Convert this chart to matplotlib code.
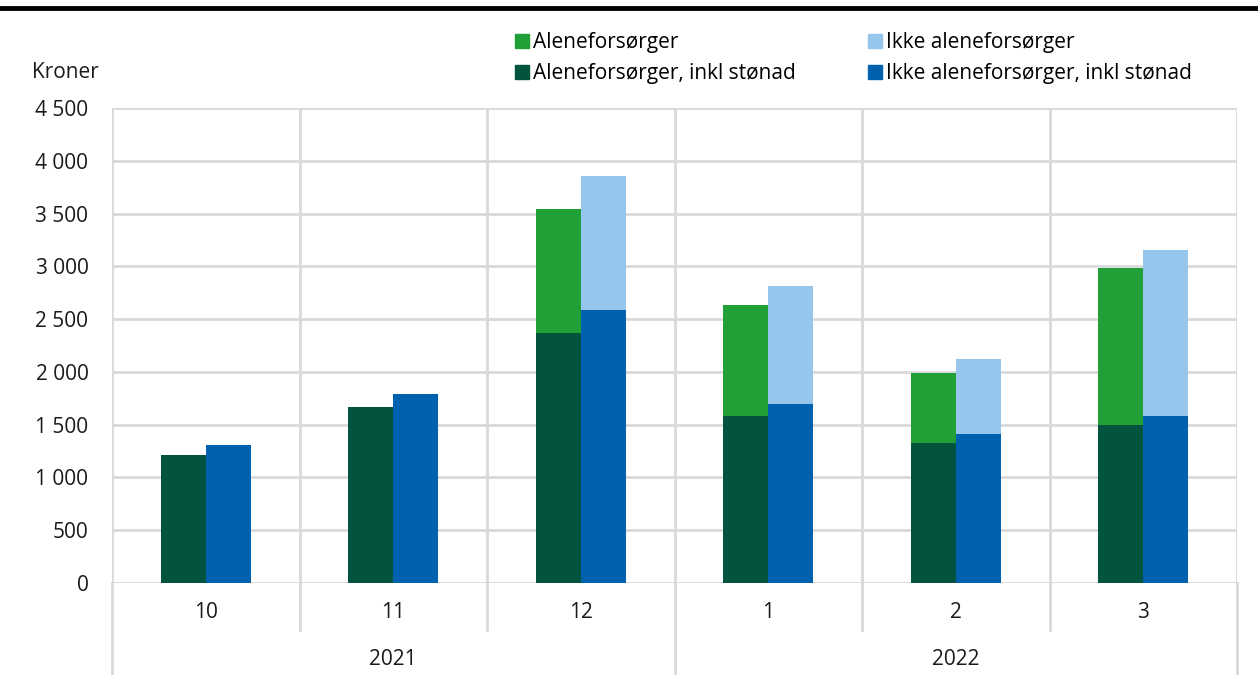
import matplotlib.pyplot as plt
import matplotlib.transforms as mtransforms
from matplotlib.lines import Line2D
from matplotlib.patches import Patch

plt.rcParams['font.family'] = ['Open Sans', 'DejaVu Sans']

# data (kroner)
months = ['10', '11', '12', '1', '2', '3']
years = ['2021', '2022']
year_span = [(0, 2), (3, 5)]
alene = [1213, 1670, 3545, 2634, 1987, 2987]
alene_stonad = [1213, 1670, 2368, 1582, 1323, 1494]
ikke_alene = [1304, 1788, 3853, 2814, 2119, 3158]
ikke_alene_stonad = [1304, 1788, 2586, 1699, 1415, 1585]
yticks = list(range(0, 4501, 500))

c_dark = '#02543f'
c_green = '#20a037'
c_blue = '#0062ae'
c_light = '#96c6eb'
c_grid = '#d9d9d9'
c_text = '#1a1a1a'
fs = 15

W, H = 1258, 675
fig = plt.figure(figsize=(W / 100, H / 100), dpi=100)
ax = fig.add_axes([112 / W, (H - 583) / H, (1237 - 112) / W, 475 / H])

x = list(range(len(months)))
bw = 0.24
xl = [i - bw / 2 for i in x]
xr = [i + bw / 2 for i in x]
ax.bar(xl, alene, width=bw, color=c_green, edgecolor='none', zorder=3)
ax.bar(xl, alene_stonad, width=bw, color=c_dark, edgecolor='none', zorder=4)
ax.bar(xr, ikke_alene, width=bw, color=c_light, edgecolor='none', zorder=3)
ax.bar(xr, ikke_alene_stonad, width=bw, color=c_blue, edgecolor='none', zorder=4)

ax.set_xlim(-0.5, len(months) - 0.5)
ax.set_ylim(0, 4500)
for s in ax.spines.values():
    s.set_visible(False)
for y in yticks:
    ax.axhline(y, color=c_grid, lw=2, zorder=1)
for b in range(len(months) + 1):
    ax.axvline(b - 0.5, color=c_grid, lw=2, zorder=1)

ax.set_yticks(yticks)
ax.set_yticklabels([f'{v:,}'.replace(',', ' ') for v in yticks])
ax.tick_params(axis='y', length=0, pad=17, labelsize=fs, colors=c_text)
ax.set_xticks([])

# category axis below the plot
trans = mtransforms.blended_transform_factory(ax.transData, ax.transAxes)
for i, m in enumerate(months):
    ax.text(i, -0.063, m, transform=trans, ha='center', va='center',
            fontsize=fs, color=c_text)
for b in range(len(months) + 1):
    long_line = b in (0, 3, 6)
    y_end = -0.2 if long_line else -0.099
    ax.plot([b - 0.5, b - 0.5], [0, y_end], transform=trans, color=c_grid,
            lw=2, clip_on=False)
for yr, (a, b) in zip(years, year_span):
    ax.text((a + b) / 2, -0.162, yr, transform=trans, ha='center', va='center',
            fontsize=fs, color=c_text)

fig.text(32 / W, 1 - 73 / H, 'Kroner', ha='left', va='center', fontsize=fs,
         color=c_text)

handles = [Patch(color=c_green), Patch(color=c_dark), Patch(color=c_light), Patch(color=c_blue)]
labels = ['Aleneforsørger', 'Aleneforsørger, inkl stønad',
          'Ikke aleneforsørger', 'Ikke aleneforsørger, inkl stønad']
fig.legend(handles, labels, ncol=2, loc='upper left',
           bbox_to_anchor=(515 / W, 1 - 32 / H), frameon=False, fontsize=fs,
           handlelength=0.65, handleheight=0.65, handletextpad=0.2,
           labelspacing=0.5, columnspacing=3.5, borderpad=0, borderaxespad=0)

# thick rule at the top
fig.add_artist(Line2D([0, 1], [1 - 8 / H, 1 - 8 / H], color='black', lw=3.5))

fig.savefig('out.png', dpi=100)
